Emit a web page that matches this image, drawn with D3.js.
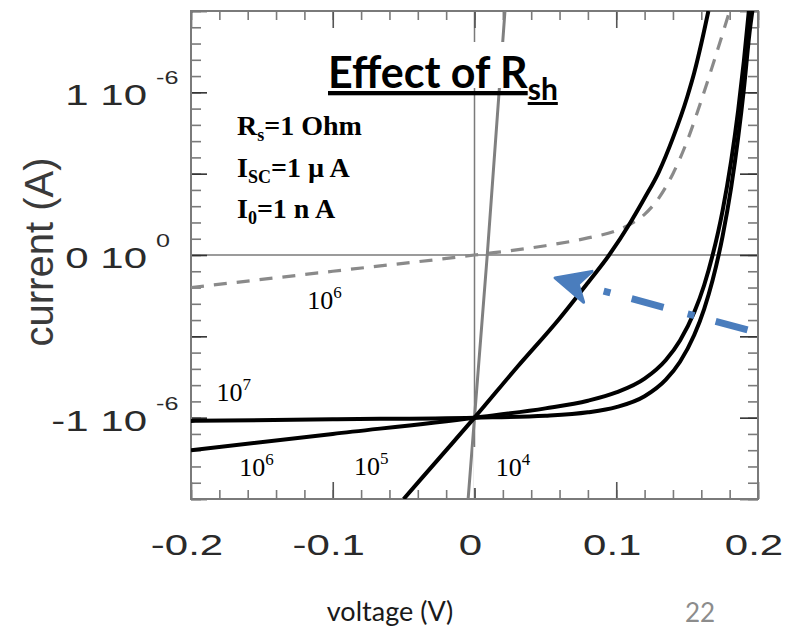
<!DOCTYPE html>
<html>
<head>
<meta charset="utf-8">
<script src="https://cdn.jsdelivr.net/npm/d3@7"></script>
<style>
  body { margin: 0; background: #fff; }
  svg { display: block; }
</style>
</head>
<body>
<div id="chart"></div>
<script>
// voltage in V, current in micro-amps
var xTickValues = [-0.2, -0.1, 0, 0.1, 0.2];
var xTickLabels = ["-0.2", "-0.1", "0", "0.1", "0.2"];
var yTickValues = [1, 0, -1];
var yTickMantissa = ["1 10", "0 10", "-1 10"];
var yTickExponent = ["-6", "0", "-6"];

var rsh1e4 = [[-0.0045, -1.5], [0, -1.0], [0.009, 0.0], [0.0215, 1.5]];
var rsh1e5 = [[-0.05, -1.5], [-0.025, -1.25], [0, -1.0], [0.03, -0.69], [0.06, -0.39],
              [0.08, -0.17], [0.095, 0.0], [0.11, 0.2], [0.12, 0.35], [0.13, 0.51],
              [0.14, 0.72], [0.15, 0.97], [0.155, 1.12], [0.16, 1.3], [0.165, 1.5]];
var rsh1e6 = [[-0.2, -1.2], [-0.1, -1.1], [0, -1.0], [0.05, -0.943], [0.08, -0.896],
              [0.1, -0.845], [0.12, -0.76], [0.135, -0.645], [0.145, -0.525], [0.155, -0.352],
              [0.162, -0.186], [0.168, 0.0], [0.175, 0.272], [0.181, 0.575], [0.186, 0.889],
              [0.19, 1.19], [0.194, 1.54]];
var rsh1e7 = [[-0.2, -1.02], [-0.1, -1.01], [0, -1.0], [0.05, -0.988], [0.08, -0.967],
              [0.1, -0.935], [0.12, -0.868], [0.135, -0.766], [0.145, -0.656], [0.155, -0.492],
              [0.162, -0.332], [0.168, -0.154], [0.175, 0.115], [0.181, 0.412], [0.186, 0.722],
              [0.19, 1.017], [0.194, 1.365], [0.197, 1.56]];
var darkRsh1e6 = [[-0.2, -0.2], [-0.1, -0.1], [0, 0.0], [0.05, 0.057], [0.08, 0.105],
                  [0.1, 0.15], [0.11, 0.19], [0.12, 0.25], [0.13, 0.35], [0.14, 0.5],
                  [0.15, 0.7], [0.16, 0.95], [0.17, 1.22], [0.18, 1.5]];

// curve labels: [voltage, current, base, exponent]
var curveLabels = [[-0.118, -0.33, "10", "6"], [-0.182, -0.9, "10", "7"],
                   [-0.166, -1.36, "10", "6"], [-0.085, -1.35, "10", "5"],
                   [0.015, -1.36, "10", "4"]];
// arrow: [tail, tip] in data coords
var arrowTail = [0.1926, -0.461];
var arrowTip = [0.0568, -0.141];

var width = 796, height = 629;
var margin = {top: 11, right: 38, bottom: 130, left: 191};

var svg = d3.select("#chart").append("svg")
    .attr("width", width)
    .attr("height", height);
svg.append("rect").attr("width", width).attr("height", height).attr("fill", "#fff");

var x = d3.scaleLinear().domain([-0.2, 0.2]).range([margin.left, width - margin.right]);
var y = d3.scaleLinear().domain([-1.5, 1.5]).range([height - margin.bottom, margin.top]);

svg.append("clipPath").attr("id", "plotclip")
    .append("rect")
    .attr("x", x(-0.2)).attr("y", y(1.5))
    .attr("width", x(0.2) - x(-0.2)).attr("height", y(-1.5) - y(1.5));

// zero lines
svg.append("line")
    .attr("x1", x(-0.2)).attr("x2", x(0.2))
    .attr("y1", y(0)).attr("y2", y(0))
    .attr("stroke", "#7a7a7a").attr("stroke-width", 1.5);
svg.append("line")
    .attr("x1", x(0)).attr("x2", x(0))
    .attr("y1", y(1.5)).attr("y2", y(-1.5))
    .attr("stroke", "#7a7a7a").attr("stroke-width", 1.5);

// ticks
var vMinor = d3.range(-20, 21, 2).map(function(d){ return d / 100; });
var vMajor = [-0.2, -0.1, 0, 0.1, 0.2];
var iMinor = d3.range(-15, 16).map(function(d){ return d / 10; });
var iMajor = [-1.5, -1, -0.5, 0, 0.5, 1, 1.5];

function tickAxis(axis, tx, ty, color) {
    var g = svg.append("g")
        .attr("transform", "translate(" + tx + "," + ty + ")")
        .call(axis);
    g.select(".domain").remove();
    g.selectAll("text").remove();
    g.selectAll("line").attr("stroke", color).attr("stroke-width", 1.6);
}
tickAxis(d3.axisTop(x).tickValues(vMinor).tickSize(9), 0, y(-1.5), "#7a7a7a");
tickAxis(d3.axisTop(x).tickValues(vMajor).tickSize(17), 0, y(-1.5), "#555");
tickAxis(d3.axisBottom(x).tickValues(vMinor).tickSize(9), 0, y(1.5), "#7a7a7a");
tickAxis(d3.axisBottom(x).tickValues(vMajor).tickSize(17), 0, y(1.5), "#555");
tickAxis(d3.axisRight(y).tickValues(iMinor).tickSize(10), x(-0.2), 0, "#7a7a7a");
tickAxis(d3.axisRight(y).tickValues(iMajor).tickSize(16), x(-0.2), 0, "#333");
tickAxis(d3.axisLeft(y).tickValues(iMinor).tickSize(10), x(0.2), 0, "#7a7a7a");
tickAxis(d3.axisLeft(y).tickValues(iMajor).tickSize(18), x(0.2), 0, "#333");

// frame
svg.append("rect")
    .attr("x", x(-0.2)).attr("y", y(1.5))
    .attr("width", x(0.2) - x(-0.2)).attr("height", y(-1.5) - y(1.5))
    .attr("fill", "none").attr("stroke", "#7a7a7a").attr("stroke-width", 2);

// curves
var line = d3.line()
    .x(function(d){ return x(d[0]); })
    .y(function(d){ return y(d[1]); })
    .curve(d3.curveMonotoneX);
var plot = svg.append("g").attr("clip-path", "url(#plotclip)");

plot.append("path").datum(darkRsh1e6)
    .attr("d", line).attr("fill", "none")
    .attr("stroke", "#8a8a8a").attr("stroke-width", 3.2)
    .attr("stroke-dasharray", "13 10");
plot.append("path").datum(rsh1e4)
    .attr("d", d3.line().x(function(d){ return x(d[0]); }).y(function(d){ return y(d[1]); }))
    .attr("fill", "none").attr("stroke", "#808080").attr("stroke-width", 3);
[rsh1e5, rsh1e6, rsh1e7].forEach(function(s){
    plot.append("path").datum(s)
        .attr("d", line).attr("fill", "none")
        .attr("stroke", "#000").attr("stroke-width", 4)
        .attr("stroke-linejoin", "round");
});

// white box behind title
svg.append("rect").attr("x", 322).attr("y", 42).attr("width", 246).attr("height", 46).attr("fill", "#fff");
// white box behind 10^4 label
svg.append("rect").attr("x", x(0) - 1).attr("y", 447).attr("width", 58).attr("height", 41).attr("fill", "#fff");

// tick labels (horizontally stretched like the original)
function stretched(str, px, py, anchor, size) {
    svg.append("text")
        .attr("transform", "translate(" + px + "," + py + ") scale(1.4,1)")
        .attr("text-anchor", anchor)
        .attr("font-family", "'Liberation Sans', Arial, sans-serif")
        .attr("font-size", size)
        .attr("fill", "#2a2a2a")
        .text(str);
}
xTickValues.forEach(function(v, i){
    stretched(xTickLabels[i], x(v) - 4, 555, "middle", 30);
});
yTickValues.forEach(function(v, i){
    stretched(yTickMantissa[i], 147, y(v) + 13, "end", 30);
    stretched(yTickExponent[i], 156, y(v) - 8, "start", 18);
});

// axis titles
svg.append("text")
    .attr("transform", "translate(53,252) rotate(-90)")
    .attr("text-anchor", "middle")
    .attr("font-family", "'Liberation Sans', Arial, sans-serif")
    .attr("font-size", 40)
    .attr("fill", "#3a3a3a")
    .text("current (A)");
svg.append("text")
    .attr("x", 390).attr("y", 621)
    .attr("text-anchor", "middle")
    .attr("font-family", "Lato, 'Open Sans', sans-serif")
    .attr("font-size", 27)
    .attr("fill", "#1a1a1a")
    .text("voltage (V)");
svg.append("text")
    .attr("x", 685).attr("y", 622)
    .attr("font-family", "Lato, 'Open Sans', sans-serif")
    .attr("font-size", 26)
    .attr("fill", "#8c8c8c")
    .text("22");

// title
var title = svg.append("text")
    .attr("x", 328).attr("y", 88)
    .attr("font-family", "Lato, 'Open Sans', sans-serif")
    .attr("font-weight", "bold")
    .attr("font-size", 43)
    .attr("fill", "#000")
    .attr("text-decoration", "underline");
title.append("tspan").text("Effect of R");
title.append("tspan").attr("font-size", 30).attr("dy", 12).text("sh");

// parameter block
var params = [["R", "s", "=1 Ohm", 135], ["I", "SC", "=1 \u00b5 A", 177], ["I", "0", "=1 n A", 218]];
params.forEach(function(p){
    var t = svg.append("text")
        .attr("x", 237).attr("y", p[3])
        .attr("font-family", "'Liberation Serif', 'Times New Roman', serif")
        .attr("font-weight", "bold")
        .attr("font-size", 28)
        .attr("fill", "#000");
    t.append("tspan").text(p[0]);
    t.append("tspan").attr("font-size", 18).attr("dy", 6).text(p[1]);
    t.append("tspan").attr("dy", -6).text(p[2]);
});

// curve labels
curveLabels.forEach(function(c){
    var t = svg.append("text")
        .attr("x", x(c[0])).attr("y", y(c[1]))
        .attr("font-family", "'Liberation Serif', 'Times New Roman', serif")
        .attr("font-size", 26)
        .attr("fill", "#000");
    t.append("tspan").text(c[2]);
    t.append("tspan").attr("font-size", 17).attr("dy", -11).text(c[3]);
});

// blue dash-dot arrow
var tail = [x(arrowTail[0]), y(arrowTail[1])];
var tip = [x(arrowTip[0]), y(arrowTip[1])];
var dx = tip[0] - tail[0], dy = tip[1] - tail[1];
var len = Math.sqrt(dx * dx + dy * dy);
var ux = dx / len, uy = dy / len;
var nx = -uy, ny = ux;
function at(back, side) {
    return [tip[0] - ux * back + nx * side, tip[1] - uy * back + ny * side];
}
var shaftEnd = at(25, 0);
svg.append("line")
    .attr("x1", tail[0]).attr("y1", tail[1])
    .attr("x2", shaftEnd[0]).attr("y2", shaftEnd[1])
    .attr("stroke", "#4a7dbd").attr("stroke-width", 7)
    .attr("stroke-dasharray", "33 22 7 25");
svg.append("path")
    .attr("d", d3.line()([tip, at(34, 16), at(24, 0), at(34, -16)]) + "Z")
    .attr("fill", "#4a7dbd")
    .attr("stroke", "#4a7dbd").attr("stroke-width", 3)
    .attr("stroke-linejoin", "round");
</script>
</body>
</html>
